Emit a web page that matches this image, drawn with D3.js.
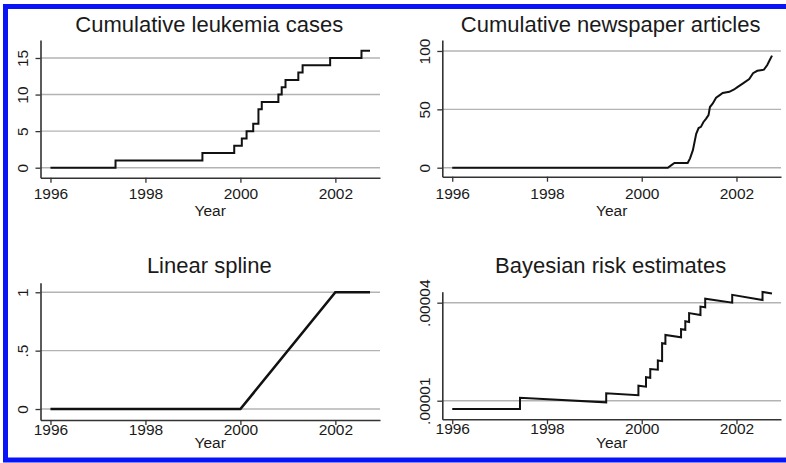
<!DOCTYPE html>
<html>
<head>
<meta charset="utf-8">
<script src="https://cdn.jsdelivr.net/npm/d3@7"></script>
<style>
  body { margin: 0; background: #fff; }
  svg { display: block; font-family: "Liberation Sans", Arial, sans-serif; }
</style>
</head>
<body>
<svg id="chart" width="786" height="463"></svg>
<script>
// year ticks shared by all four panels
var yearTicks = [1996, 1998, 2000, 2002];

// cumulative leukemia cases (step function)
var caseYears  = [1996, 1997.37, 1999.20, 1999.87, 2000.03, 2000.13, 2000.27, 2000.38, 2000.45, 2000.80, 2000.87, 2000.95, 2001.22, 2001.31, 2001.89, 2002.55, 2002.73];
var caseCounts = [0, 1, 2, 3, 4, 5, 6, 8, 9, 10, 11, 12, 13, 14, 15, 16, 16];
var caseTicks  = [0, 5, 10, 15];

// cumulative newspaper articles
var articleYears  = [1996, 2000.55, 2000.62, 2000.69, 2000.97, 2001.02, 2001.08, 2001.15, 2001.20, 2001.25, 2001.30, 2001.36, 2001.41, 2001.44, 2001.50, 2001.57, 2001.64, 2001.71, 2001.85, 2001.95, 2002.02, 2002.13, 2002.27, 2002.35, 2002.44, 2002.58, 2002.65, 2002.70, 2002.75];
var articleCounts = [0, 0, 2, 4, 4, 8, 15, 29, 34, 35, 39, 42, 45, 52, 55, 60, 62, 64, 65, 67, 69, 72, 76, 81, 83, 84, 88, 92, 96];
var articleTicks  = [0, 50, 100];

// linear spline
var splineYears  = [1996, 2000, 2002, 2002.73];
var splineValues = [0, 0, 1, 1];
var splineTicks  = [0, 0.5, 1];
var splineLabels = ["0", ".5", "1"];

// bayesian risk estimates (jump at each case, then slow decay)
var riskYears  = [1996, 1997.43, 1997.43, 1999.25, 1999.25, 1999.93, 1999.93, 2000.09, 2000.09, 2000.18, 2000.18, 2000.34, 2000.34, 2000.43, 2000.43, 2000.50, 2000.50, 2000.83, 2000.83, 2000.92, 2000.92, 2001.00, 2001.00, 2001.24, 2001.24, 2001.34, 2001.34, 2001.91, 2001.91, 2002.55, 2002.55, 2002.75];
var riskValues = [7.5e-6, 7.5e-6, 10.9e-6, 9.5e-6, 12.3e-6, 11.7e-6, 14.6e-6, 14.3e-6, 17.2e-6, 17.0e-6, 19.7e-6, 19.5e-6, 22.3e-6, 22.1e-6, 27.6e-6, 27.4e-6, 30.1e-6, 29.4e-6, 31.9e-6, 31.7e-6, 34.3e-6, 34.1e-6, 36.8e-6, 36.2e-6, 38.8e-6, 38.6e-6, 41.2e-6, 40.0e-6, 42.4e-6, 40.8e-6, 43.3e-6, 42.8e-6];
var riskTicks  = [0.00001, 0.00004];
var riskLabels = [".00001", ".00004"];

var svg = d3.select("#chart");

// blue frame (right edge is cut off in the original)
svg.append("rect")
  .attr("x", 5.5).attr("y", 6.5)
  .attr("width", 800).attr("height", 453.5)
  .attr("fill", "none")
  .attr("stroke", "#0814f6")
  .attr("stroke-width", 5);

function panel(p) {
  var x = d3.scaleLinear().domain([1995.79, 2002.94]).range([p.x0, p.x1]);
  var y = d3.scaleLinear().domain(p.ydom).range([p.yb, p.yt]);
  var g = svg.append("g");

  // gridlines
  g.selectAll(".grid").data(p.ticks).enter().append("line")
    .attr("x1", p.x0).attr("x2", p.x1)
    .attr("y1", function(d){ return y(d) }).attr("y2", function(d){ return y(d) })
    .attr("stroke", "#b3b3b3").attr("stroke-width", 1.4);

  // axes
  var xa = g.append("g").attr("transform", "translate(0," + p.yb + ")")
    .call(d3.axisBottom(x).tickValues(yearTicks).tickFormat(d3.format("d")).tickSize(5).tickSizeOuter(0));
  var ya = g.append("g").attr("transform", "translate(" + p.x0 + ",0)")
    .call(d3.axisLeft(y).tickValues(p.ticks).tickFormat(function(d, i){ return p.labels[i] }).tickSize(5).tickSizeOuter(0));
  g.selectAll(".domain").attr("stroke", "#333").attr("stroke-width", 1.6);
  g.selectAll(".tick line").attr("stroke", "#333").attr("stroke-width", 1.3);

  xa.selectAll("text")
    .attr("dy", null)
    .attr("y", p.tickBase - p.yb)
    .attr("font-size", 15.5).attr("fill", "#1a1a1a");
  ya.attr("text-anchor", "middle");
  ya.selectAll("text")
    .attr("x", 0).attr("y", 0)
    .style("text-anchor", "middle")
    .attr("transform", "translate(-18,0) rotate(-90)")
    .attr("dy", "0.36em")
    .attr("font-size", 15.5).attr("fill", "#1a1a1a");

  // axis title and panel title
  g.append("text").attr("x", (p.x0 + p.x1) / 2).attr("y", p.yearBase)
    .attr("text-anchor", "middle").attr("font-size", 15.5).attr("fill", "#1a1a1a").text("Year");
  g.append("text").attr("x", (p.x0 + p.x1) / 2 - 1).attr("y", p.titleBase)
    .attr("text-anchor", "middle").attr("font-size", 22).attr("fill", "#1a1a1a").text(p.title);

  // data line
  var pts = p.xs.map(function(d, i){ return [d, p.ys[i]] });
  var line = d3.line()
    .x(function(d){ return x(d[0]) })
    .y(function(d){ return y(d[1]) })
    .curve(p.curve || d3.curveLinear);
  g.append("path").datum(pts)
    .attr("d", line)
    .attr("fill", "none")
    .attr("stroke", "#111")
    .attr("stroke-width", p.lw || 2)
    .attr("stroke-linejoin", "miter");
}

panel({ title: "Cumulative leukemia cases", x0: 40.5, x1: 380, yt: 40, yb: 177.7,
  ydom: [-1.367, 17.46], ticks: caseTicks, labels: caseTicks.map(String),
  xs: caseYears, ys: caseCounts, curve: d3.curveStepAfter,
  tickBase: 199, yearBase: 215.5, titleBase: 32 });

panel({ title: "Cumulative newspaper articles", x0: 442.3, x1: 781, yt: 40, yb: 176.7,
  ydom: [-7.71, 109.4], ticks: articleTicks, labels: articleTicks.map(String),
  xs: articleYears, ys: articleCounts,
  tickBase: 199, yearBase: 215.5, titleBase: 32 });

panel({ title: "Linear spline", x0: 40.5, x1: 380, yt: 282.7, yb: 420,
  ydom: [-0.094, 1.082], ticks: splineTicks, labels: splineLabels,
  xs: splineYears, ys: splineValues, lw: 2.6,
  tickBase: 434.5, yearBase: 447.5, titleBase: 273 });

panel({ title: "Bayesian risk estimates", x0: 442.3, x1: 781, yt: 291.7, yb: 419.3,
  ydom: [4.31e-6, 43.36e-6], ticks: riskTicks, labels: riskLabels,
  xs: riskYears, ys: riskValues,
  tickBase: 434.5, yearBase: 447.5, titleBase: 273 });
</script>
</body>
</html>
